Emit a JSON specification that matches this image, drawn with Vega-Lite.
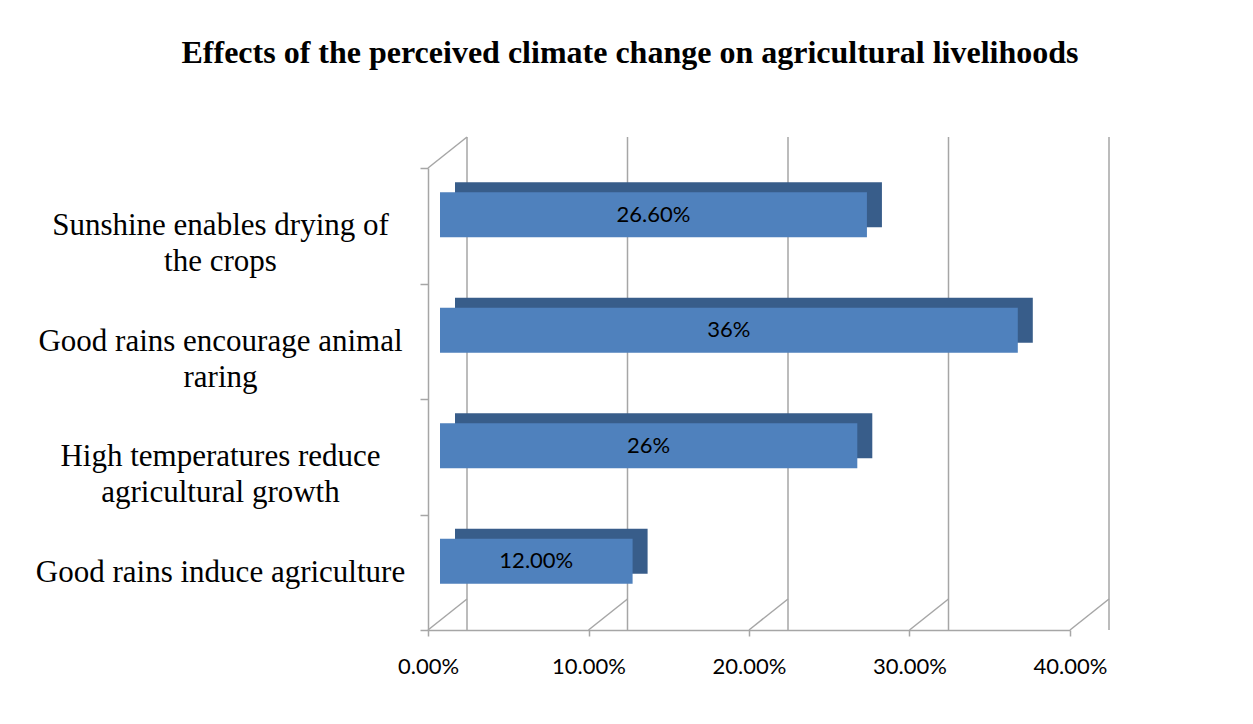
{
  "$schema": "https://vega.github.io/schema/vega-lite/v6.json",
  "width": 642,
  "height": 462,
  "autosize": {"type": "none"},
  "padding": {"left": 428, "top": 168, "right": 183, "bottom": 94},
  "background": "white",
  "title": {
    "text": "Effects of the perceived climate change on agricultural livelihoods",
    "font": "Liberation Serif",
    "fontSize": 32,
    "fontWeight": "bold",
    "color": "black",
    "anchor": "middle",
    "dx": -119,
    "offset": 66
  },
  "config": {"view": {"stroke": null}},
  "datasets": {
    "bars": [
      {"effect": "Sunshine enables drying of the crops", "share": 0.266, "label": "26.60%"},
      {"effect": "Good rains encourage animal raring", "share": 0.36, "label": "36%"},
      {"effect": "High temperatures reduce agricultural growth", "share": 0.26, "label": "26%"},
      {"effect": "Good rains induce agriculture", "share": 0.12, "label": "12.00%"}
    ],
    "grid": [{"v": 0}, {"v": 0.1}, {"v": 0.2}, {"v": 0.3}, {"v": 0.4}]
  },
  "resolve": {"scale": {"x": "independent"}},
  "layer": [
    {
      "layer": [
        {
          "data": {"name": "grid"},
          "mark": {"type": "rule", "color": "#a6a6a6", "strokeWidth": 1.5, "xOffset": 39, "x2Offset": 39, "yOffset": -31, "y2Offset": -31},
          "encoding": {
            "x": {
              "field": "v",
              "type": "quantitative",
              "scale": {"domain": [0, 0.4], "nice": false},
              "axis": {
                "values": [0, 0.1, 0.2, 0.3, 0.4],
                "format": ".2%",
                "grid": false,
                "title": null,
                "domainColor": "#a6a6a6",
                "domainWidth": 1.5,
                "tickColor": "#a6a6a6",
                "tickWidth": 1.5,
                "tickSize": 6,
                "labelFont": "Lato",
                "labelFontSize": 22,
                "labelColor": "black",
                "labelFlush": false,
                "labelPadding": 20
              }
            }
          }
        },
        {
          "data": {"name": "grid"},
          "mark": {"type": "rule", "color": "#a6a6a6", "strokeWidth": 1.5, "x2Offset": 39},
          "encoding": {
            "x": {"field": "v", "type": "quantitative"},
            "x2": {"field": "v"},
            "y": {"value": {"expr": "height"}},
            "y2": {"value": {"expr": "height - 31"}}
          }
        },
        {
          "data": {"name": "grid"},
          "transform": [{"filter": "datum.v == 0"}],
          "mark": {"type": "rule", "color": "#a6a6a6", "strokeWidth": 1.5, "x2Offset": 39},
          "encoding": {
            "x": {"field": "v", "type": "quantitative"},
            "x2": {"field": "v"},
            "y": {"value": 0},
            "y2": {"value": -31}
          }
        },
        {
          "data": {"name": "bars"},
          "mark": {"type": "bar", "color": "#385d8a", "size": 45, "xOffset": 27, "x2Offset": 27, "yOffset": -21, "y2Offset": -21},
          "encoding": {
            "x": {"field": "share", "type": "quantitative"},
            "y": {
              "field": "effect",
              "type": "nominal",
              "sort": null,
              "scale": {"paddingInner": 0, "paddingOuter": 0},
              "axis": {
                "title": null,
                "domainColor": "#a6a6a6",
                "domainWidth": 1.5,
                "tickColor": "#a6a6a6",
                "tickWidth": 1.5,
                "tickSize": 8,
                "tickBand": "extent",
                "labelFont": "Liberation Serif",
                "labelFontSize": 31,
                "labelColor": "black",
                "labelAlign": "center",
                "labelPadding": 200,
                "labelLimit": 0,
                "labelLineHeight": 36,
                "labelExpr": "datum.label == 'Sunshine enables drying of the crops' ? ['Sunshine enables drying of', 'the crops'] : datum.label == 'Good rains encourage animal raring' ? ['Good rains encourage animal', 'raring'] : datum.label == 'High temperatures reduce agricultural growth' ? ['High temperatures reduce', 'agricultural growth'] : datum.label"
              }
            }
          }
        },
        {
          "data": {"name": "bars"},
          "mark": {"type": "bar", "color": "#4f81bd", "size": 45, "xOffset": 12, "x2Offset": 12, "yOffset": -11, "y2Offset": -11},
          "encoding": {
            "x": {"field": "share", "type": "quantitative"},
            "y": {"field": "effect", "type": "nominal", "sort": null}
          }
        }
      ]
    },
    {
      "data": {"name": "bars"},
      "mark": {"type": "text", "font": "Lato", "fontSize": 22, "color": "black", "xOffset": 12, "yOffset": -11, "align": "center", "baseline": "middle"},
      "encoding": {
        "x": {"field": "share", "type": "quantitative", "scale": {"domain": [0, 0.8], "nice": false}, "axis": null},
        "y": {"field": "effect", "type": "nominal", "sort": null},
        "text": {"field": "label"}
      }
    }
  ]
}
